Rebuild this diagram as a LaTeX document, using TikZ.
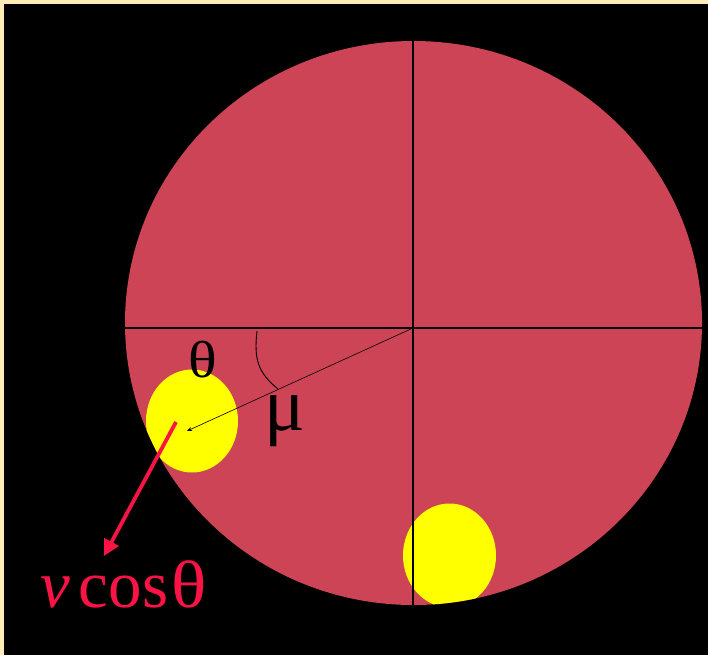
\documentclass[tikz,border=0pt]{standalone}
\usepackage{fontspec}
\setmainfont{Liberation Serif}
\usetikzlibrary{arrows.meta}
\definecolor{cream}{RGB}{255,236,184}
\definecolor{disc}{RGB}{204,68,85}
\definecolor{ball}{RGB}{255,255,0}
\definecolor{vred}{RGB}{250,20,70}
\tikzset{
  axis/.style={black, line width=1.2pt},
  label/.style={inner sep=0pt, text=black},
}
\begin{document}
\begin{tikzpicture}[x=1pt,y=-1pt]
\useasboundingbox (0,0) rectangle (708,655);
\fill[cream] (0,0) rectangle (708,655);
\fill[black] (4,4) rectangle (708,655);
% disc
\coordinate (O) at (413.5,323);
\fill[disc] (O) ellipse [x radius=288.5, y radius=282];
\begin{scope}
  \clip (O) ellipse [x radius=288.5, y radius=282];
  \fill[ball] (192,421) ellipse [x radius=46, y radius=51.5];
  \fill[ball] (449.5,555.5) ellipse [x radius=46.5, y radius=52];
\end{scope}
% axes
\coordinate (T) at (413,41);
\coordinate (B) at (413,605);
\coordinate (L) at (125,328);
\coordinate (R) at (702,328);
\coordinate (C) at (413,328);
\draw[axis] (T) -- (B);
\draw[axis] (L) -- (R);
% radius to ball
\coordinate (P) at (187,431);
\draw[black, line width=0.6pt, -{Stealth[length=5pt,width=4pt]}] (C) -- (P);
% angle arc mu
\coordinate (A1) at (257,331);
\coordinate (A2) at (278,389);
\draw[black, line width=0.9pt] (A1) .. controls (254,358) and (257,372) .. (A2);
% labels
\node[label, font=\fontsize{52}{52}\selectfont] (th) at (203,360) {\scalebox{1.15}[1]{θ}};
\node[label, font=\fontsize{76}{76}\selectfont] (mu) at (285,421) {μ};
% velocity component
\coordinate (S) at (176,422);
\coordinate (E) at (104,556);
\draw[vred, line width=3.8pt, -{Triangle[length=16pt,width=16pt]}] (S) -- (E);
\node[inner sep=0pt, anchor=base west, text=vred, font=\fontsize{67}{67}\selectfont] (vc) at (40,607) {\textit{v}\hspace{9pt}cos\hspace{3pt}\scalebox{1.1}[1]{θ}};
\end{tikzpicture}
\end{document}
